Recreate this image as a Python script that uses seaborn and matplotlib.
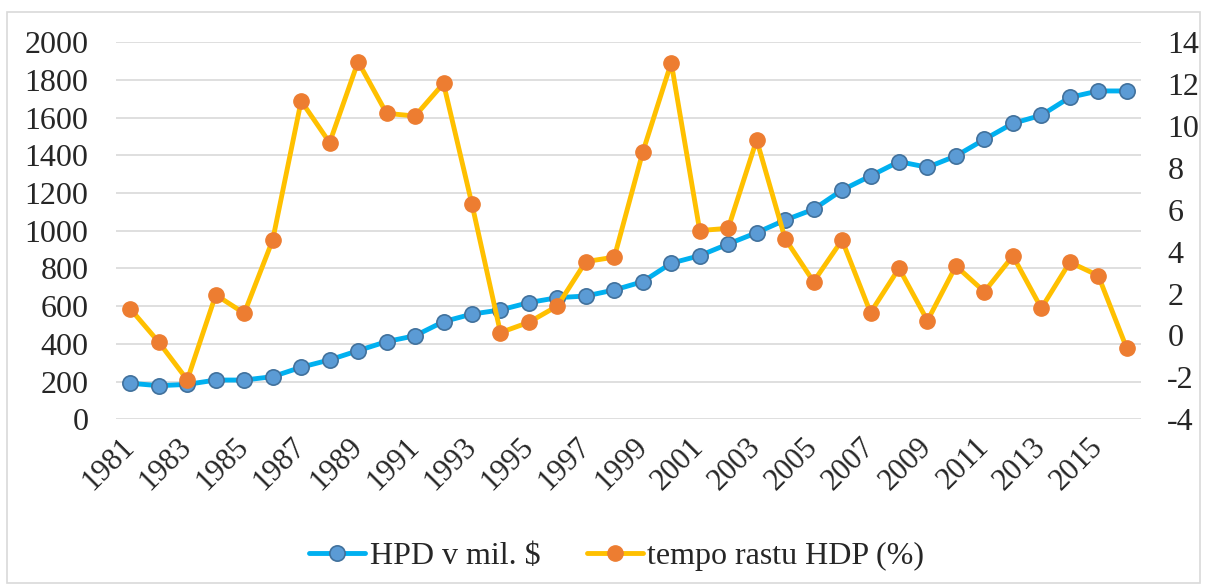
#!/usr/bin/env python3
"""
    HPD v mil. $ vs tempo rastu HDP (%) — dual axis line chart
"""
import matplotlib
matplotlib.use("Agg")
import matplotlib.pyplot as plt
import seaborn as sns
import pandas as pd
from matplotlib.patches import Rectangle

years = list(range(1981, 2017))
hpd = [191, 178, 185, 208, 208, 226, 276, 315, 364, 412,
       443, 518, 558, 580, 619, 645, 654, 686, 730, 828,
       868, 930, 990, 1057, 1114, 1216, 1291, 1367, 1337, 1397,
       1485, 1570, 1613, 1708, 1742, 1742]
growth = [1.27, -0.32, -2.12, 1.94, 1.06, 4.56, 11.2, 9.21, 13.08, 10.61,
          10.48, 12.04, 6.27, 0.14, 0.63, 1.41, 3.53, 3.74, 8.76, 13.03,
          5.01, 5.12, 9.34, 4.62, 2.57, 4.56, 1.09, 3.21, 0.71, 3.32,
          2.09, 3.80, 1.30, 3.50, 2.86, -0.61]
label_hpd = "HPD v mil. $"
label_growth = "tempo rastu HDP (%)"

df = pd.DataFrame({"year": years, "hpd": hpd, "growth": growth})

sns.set_style("white")
plt.rcParams["font.family"] = ["Liberation Serif", "DejaVu Serif"]
plt.rcParams["axes.unicode_minus"] = False

fig = plt.figure(figsize=(12.07, 5.88), dpi=100)
ax1 = fig.add_axes([0.0962, 0.287, 0.8491, 0.641])
ax2 = ax1.twinx()

# --- left axis: HPD ---
sns.lineplot(data=df, x="year", y="hpd", ax=ax1, color="#00B0F0", lw=3.5,
             marker="o", markersize=11, markerfacecolor="#5B9BD5",
             markeredgecolor="#41719C", markeredgewidth=1.2, label=label_hpd,
             legend=False, zorder=3)
# --- right axis: growth ---
sns.lineplot(data=df, x="year", y="growth", ax=ax2, color="#FFC000", lw=3.5,
             marker="o", markersize=11, markerfacecolor="#ED7D31",
             markeredgecolor="#ED7D31", markeredgewidth=1, label=label_growth,
             legend=False, zorder=3)

ax1.set_xlim(1980.5, 2016.5)
ax1.set_ylim(0, 2000)
ax1.set_yticks(range(0, 2001, 200))
ax2.set_ylim(-4, 14)
ax2.set_yticks(range(-4, 15, 2))
ax1.set_xticks(years[::2])
ax1.set_xticklabels([str(y) for y in years[::2]], rotation=45, ha="right",
                    va="center", rotation_mode="anchor")
ax1.grid(axis="y", color="#D9D9D9", lw=1.2)
ax1.grid(axis="x", visible=False)
ax1.set_axisbelow(True)
ax1.set_xlabel("")
ax1.set_ylabel("")
ax2.set_ylabel("")

for ax in (ax1, ax2):
    for s in ax.spines.values():
        s.set_visible(False)
    ax.tick_params(length=0, labelsize=23)
ax1.tick_params(axis="x", labelsize=22, pad=17)
ax1.tick_params(axis="y", pad=20)
ax2.tick_params(axis="y", pad=19)

h1, l1 = ax1.get_legend_handles_labels()
h2, l2 = ax2.get_legend_handles_labels()
fig.legend(h1 + h2, l1 + l2, loc="center", bbox_to_anchor=(0.511, 0.054),
           ncol=2, frameon=False, fontsize=23, handlelength=1.75,
           columnspacing=1.45, handletextpad=0.15)

fig.patches.append(Rectangle((0.006, 0.008), 0.988, 0.972,
                             transform=fig.transFigure, fill=False,
                             edgecolor="#D9D9D9", lw=1.2))

fig.savefig("out.png", dpi=100)
